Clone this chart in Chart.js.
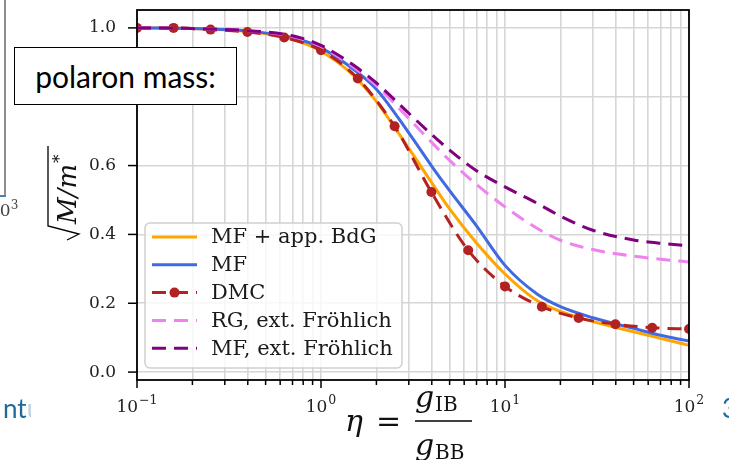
<!DOCTYPE html>
<html>
<head>
<meta charset="utf-8">
<script src="https://cdn.jsdelivr.net/npm/chart.js@4.4.0/dist/chart.umd.min.js"></script>
<style>
  html, body { margin: 0; padding: 0; background: #fff; }
  #wrap { position: relative; width: 729px; height: 460px; overflow: hidden; background: #fff; }
  #massChart { position: absolute; left: 0; top: 0; }
  .note { position: absolute; white-space: nowrap; }
  #leftRule { position: absolute; left: 4px; top: 0; width: 2px; height: 196px; background: #8e8e8e; }
  #leftTick { position: absolute; left: 0; top: 195px; width: 6px; height: 2px; background: #4a7fb5; }
  #oldTick { left: -11px; top: 200px; font: 17px "DejaVu Serif", serif; color: #444; line-height: 20px; }
  #oldTick sup { font-size: 12px; vertical-align: 7px; line-height: 0; }
  #title { left: 14px; top: 47px; width: 221px; height: 56px; border: 1.5px solid #000; background: #fff;
           font: 30px Lato, sans-serif; color: #000; display: flex; align-items: center; justify-content: center; }
  #leftWord { left: 3px; top: 392px; width: 28px; overflow: hidden; font: 26px Lato, sans-serif; color: #1d6a9c; }
  #leftWord span { opacity: 0.3; }
  #rightWord { left: 722px; top: 392px; font: 26px Lato, sans-serif; color: #1d6a9c; }
</style>
</head>
<body>
<div id="wrap">
  <canvas id="massChart" width="729" height="460"></canvas>
  <div id="leftRule"></div>
  <div id="leftTick"></div>
  <div class="note" id="oldTick">10<sup>3</sup></div>
  <div class="note" id="title">polaron mass:</div>
  <div class="note" id="leftWord">nt<span>u</span></div>
  <div class="note" id="rightWord">3</div>
</div>
<script>
// coupling ratio eta = g_IB / g_BB
const dmcEta = [0.1, 0.158, 0.251, 0.398, 0.631, 1.0, 1.585, 2.512, 3.981, 6.31, 10, 15.85, 25.12, 39.81, 63.1, 100];
const dmcMass = [1.0, 1.0, 0.995, 0.988, 0.972, 0.935, 0.853, 0.714, 0.523, 0.354, 0.249, 0.19, 0.157, 0.139, 0.129, 0.125];

const curveEta = [0.1, 0.2, 0.4, 0.7, 1, 1.5, 2, 3, 4, 5, 7, 10, 15, 20, 30, 50, 70, 100];
const mfBdgMass = [1.0, 0.998, 0.99, 0.967, 0.932, 0.862, 0.786, 0.65, 0.55, 0.474, 0.375, 0.285, 0.207, 0.176, 0.147, 0.117, 0.098, 0.078];
const mfMass = [1.0, 0.998, 0.991, 0.972, 0.942, 0.88, 0.822, 0.695, 0.598, 0.527, 0.425, 0.31, 0.226, 0.19, 0.158, 0.127, 0.107, 0.09];
const rgFrohlichMass = [1.0, 0.998, 0.992, 0.975, 0.946, 0.886, 0.832, 0.737, 0.667, 0.615, 0.545, 0.48, 0.417, 0.383, 0.356, 0.337, 0.328, 0.32];
const mfFrohlichMass = [1.0, 0.998, 0.992, 0.977, 0.949, 0.892, 0.84, 0.752, 0.69, 0.645, 0.585, 0.538, 0.49, 0.453, 0.412, 0.384, 0.374, 0.367];

const seriesLabels = ['MF + app. BdG', 'MF', 'DMC', 'RG, ext. Fröhlich', 'MF, ext. Fröhlich'];

const xDecades = [0.1, 1, 10, 100];
const xDecadeExps = ['−1', '0', '1', '2'];
const xMinorSteps = [2, 3, 4, 5, 6, 7, 8, 9];
const yTicks = [0.0, 0.2, 0.4, 0.6, 0.8, 1.0];

const xTicks = [];
xDecades.forEach((d, i) => {
    xTicks.push(d);
    if (i < xDecades.length - 1) xMinorSteps.forEach(m => xTicks.push(+(d * m).toPrecision(3)));
});

function points(xs, ys) {
    return xs.map((x, i) => ({ x: x, y: ys[i] }));
}

const SERIF = '"DejaVu Serif", serif';

// legend box in the lower left corner of the axes
const boxLegend = {
    id: 'boxLegend',
    afterDatasetsDraw(chart) {
        const ctx = chart.ctx;
        const a = chart.chartArea;
        const x0 = a.left + 8, y0 = a.top + 213, w = 257, h = 145;
        ctx.save();
        ctx.beginPath();
        ctx.roundRect(x0, y0, w, h, 5);
        ctx.fillStyle = 'rgba(255,255,255,0.8)';
        ctx.fill();
        ctx.strokeStyle = '#d0d0d0';
        ctx.lineWidth = 1.5;
        ctx.stroke();
        chart.data.datasets.forEach((ds, i) => {
            const y = y0 + 14 + i * 27.8;
            ctx.beginPath();
            ctx.setLineDash(ds.borderDash || []);
            ctx.strokeStyle = ds.borderColor;
            ctx.lineWidth = ds.borderWidth;
            ctx.moveTo(x0 + 7, y);
            ctx.lineTo(x0 + 52, y);
            ctx.stroke();
            ctx.setLineDash([]);
            if (ds.pointRadius > 0) {
                ctx.beginPath();
                ctx.arc(x0 + 29.5, y, ds.pointRadius, 0, Math.PI * 2);
                ctx.fillStyle = ds.pointBackgroundColor;
                ctx.fill();
            }
            ctx.fillStyle = '#1a1a1a';
            ctx.font = '21px ' + SERIF;
            ctx.textBaseline = 'middle';
            ctx.fillText(ds.label, x0 + 66, y + 1);
        });
        ctx.restore();
    }
};

// axes frame, tick marks, decade labels and the math axis titles
const frameAndTitles = {
    id: 'frameAndTitles',
    afterDraw(chart) {
        const ctx = chart.ctx;
        const a = chart.chartArea;
        const sx = chart.scales.x, sy = chart.scales.y;
        ctx.save();
        ctx.strokeStyle = '#000';
        ctx.lineWidth = 1.5;
        sx.ticks.forEach(t => {
            const px = sx.getPixelForValue(t.value);
            const len = xDecades.includes(t.value) ? 8 : 5;
            ctx.beginPath();
            ctx.moveTo(px, a.bottom);
            ctx.lineTo(px, a.bottom + len);
            ctx.stroke();
        });
        sy.ticks.forEach(t => {
            const py = sy.getPixelForValue(t.value);
            ctx.beginPath();
            ctx.moveTo(a.left, py);
            ctx.lineTo(a.left - 9, py);
            ctx.stroke();
        });
        ctx.lineWidth = 1.8;
        ctx.strokeRect(a.left, a.top, a.right - a.left, a.bottom - a.top);

        // decade labels 10^n under the log axis
        ctx.fillStyle = '#222';
        ctx.textBaseline = 'alphabetic';
        xDecades.forEach((d, i) => {
            const px = sx.getPixelForValue(d);
            ctx.font = '17px ' + SERIF;
            const wb = ctx.measureText('10').width;
            ctx.font = '12.5px ' + SERIF;
            const we = ctx.measureText(xDecadeExps[i]).width;
            const left = px - (wb + we + 1) / 2;
            ctx.font = '17px ' + SERIF;
            ctx.fillText('10', left, a.bottom + 32);
            ctx.font = '12.5px ' + SERIF;
            ctx.fillText(xDecadeExps[i], left + wb + 1, a.bottom + 24);
        });

        // x title: eta = g_IB / g_BB
        ctx.fillStyle = '#111';
        ctx.font = 'italic 30px ' + SERIF;
        ctx.fillText('η', 345, 431);
        ctx.font = '30px ' + SERIF;
        ctx.fillText('=', 376, 431);
        ctx.lineWidth = 1.4;
        ctx.beginPath();
        ctx.moveTo(415, 421);
        ctx.lineTo(472, 421);
        ctx.stroke();
        ctx.font = 'italic 30px ' + SERIF;
        ctx.fillText('g', 415, 407);
        ctx.fillText('g', 415, 455);
        ctx.font = '20px ' + SERIF;
        ctx.fillText('IB', 435, 411);
        ctx.fillText('BB', 435, 459);

        // y title: sqrt(M / m*)
        ctx.translate(76, 240);
        ctx.rotate(-Math.PI / 2);
        ctx.lineWidth = 1.3;
        ctx.beginPath();
        ctx.moveTo(0, -9);
        ctx.lineTo(6, 3);
        ctx.lineTo(14, -28);
        ctx.lineTo(94, -28);
        ctx.stroke();
        ctx.font = 'italic 26px ' + SERIF;
        ctx.fillText('M/m', 16, 0);
        const w = ctx.measureText('M/m').width;
        ctx.font = '17px ' + SERIF;
        ctx.fillText('*', 16 + w + 1, -11);
        ctx.restore();
    }
};

const ctx = document.getElementById('massChart').getContext('2d');

new Chart(ctx, {
    type: 'line',
    data: {
        datasets: [
            {
                label: seriesLabels[0],
                data: points(curveEta, mfBdgMass),
                borderColor: '#ffa500',
                borderWidth: 3,
                pointRadius: 0,
                cubicInterpolationMode: 'monotone',
                order: 5
            },
            {
                label: seriesLabels[1],
                data: points(curveEta, mfMass),
                borderColor: '#4169e1',
                borderWidth: 3,
                pointRadius: 0,
                cubicInterpolationMode: 'monotone',
                order: 4
            },
            {
                label: seriesLabels[2],
                data: points(dmcEta, dmcMass),
                borderColor: '#b22222',
                borderWidth: 3,
                borderDash: [14, 8],
                pointRadius: 5,
                pointBackgroundColor: '#b22222',
                pointBorderColor: '#b22222',
                pointBorderWidth: 0,
                cubicInterpolationMode: 'monotone',
                order: 3
            },
            {
                label: seriesLabels[3],
                data: points(curveEta, rgFrohlichMass),
                borderColor: '#ee82ee',
                borderWidth: 3,
                borderDash: [14, 8],
                pointRadius: 0,
                cubicInterpolationMode: 'monotone',
                order: 2
            },
            {
                label: seriesLabels[4],
                data: points(curveEta, mfFrohlichMass),
                borderColor: '#800080',
                borderWidth: 3,
                borderDash: [14, 8],
                pointRadius: 0,
                cubicInterpolationMode: 'monotone',
                order: 1
            }
        ]
    },
    options: {
        responsive: false,
        animation: false,
        layout: { padding: { left: 0, top: 10, right: 40, bottom: 0 } },
        plugins: {
            legend: { display: false },
            tooltip: { enabled: false }
        },
        scales: {
            x: {
                type: 'logarithmic',
                min: 0.1,
                max: 100,
                afterBuildTicks: s => { s.ticks = xTicks.map(v => ({ value: v })); },
                afterFit: s => { s.height = 80; s.paddingLeft = 0; s.paddingRight = 0; },
                border: { display: false },
                grid: { color: '#d6d6d6', lineWidth: 1.6, drawTicks: true, tickLength: 8, tickColor: 'rgba(0,0,0,0)' },
                ticks: {
                    autoSkip: false,
                    maxRotation: 0,
                    callback: () => ''
                }
            },
            y: {
                min: -0.023,
                max: 1.052,
                afterBuildTicks: s => { s.ticks = yTicks.map(v => ({ value: v })); },
                afterFit: s => { s.width = 137; s.paddingTop = 0; s.paddingBottom = 0; },
                border: { display: false },
                grid: { color: '#d6d6d6', lineWidth: 1.6, drawTicks: true, tickLength: 9, tickColor: 'rgba(0,0,0,0)' },
                ticks: {
                    padding: 12,
                    color: '#222',
                    font: { family: 'DejaVu Serif', size: 17 },
                    callback: v => v.toFixed(1)
                }
            }
        }
    },
    plugins: [boxLegend, frameAndTitles]
});
</script>
</body>
</html>
